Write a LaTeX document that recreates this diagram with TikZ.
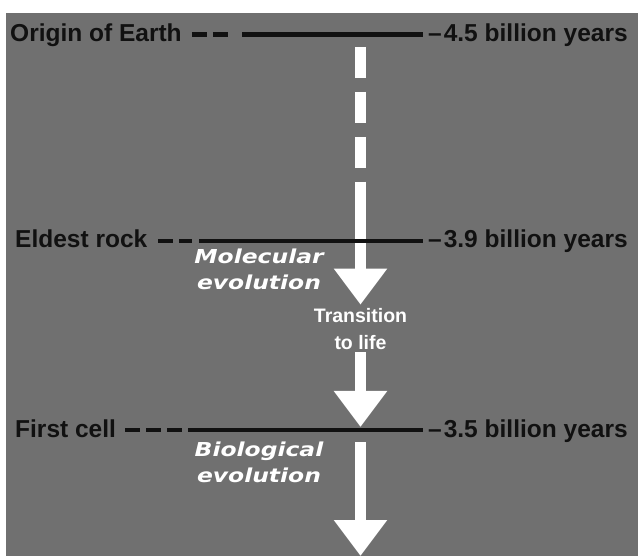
\documentclass[tikz,border=0pt]{standalone}
\usepackage{fontspec}
\setmainfont{Liberation Sans}
\newfontfamily\widefont[FakeStretch=1.22]{DejaVu Sans}
\usetikzlibrary{arrows.meta}
\definecolor{panel}{RGB}{112,112,112}
\definecolor{ink}{RGB}{17,17,17}
\tikzset{
  era/.style={anchor=base west,inner sep=0pt,text=ink,font=\fontsize{24.5}{29}\selectfont\bfseries},
  age/.style={anchor=base west,inner sep=0pt,text=ink,font=\fontsize{24.5}{29}\selectfont\bfseries},
  phase/.style={inner sep=0pt,text=white,align=center,font=\widefont\fontsize{19.2}{26.5}\selectfont\bfseries\itshape},
  passage/.style={inner sep=0pt,text=white,align=center,font=\fontsize{19.5}{27}\selectfont\bfseries},
  solidline/.style={line width=4.5pt,ink},
  dashline/.style={line width=4.5pt,ink,dash pattern=on 15pt off 6pt},
  flow/.style={white,line width=11.5pt,-{Triangle[width=51pt,length=36pt]}},
  flowdash/.style={white,line width=11.5pt,dash pattern=on 31pt off 14pt},
}
\begin{document}
\begin{tikzpicture}[x=1pt,y=-1pt]
\path[use as bounding box] (0,0) rectangle (638,556);
\fill[white] (0,0) rectangle (638,556);
\fill[panel] (6,13) rectangle (638,556);
% time marks
\node[era] (origin) at (10,42) {Origin of Earth};
\node[age] (origin age) at (428,42) {–\kern2pt4.5 billion years};
\node[era] (rock) at (15,248) {Eldest rock};
\node[age] (rock age) at (428,248) {–\kern2pt3.9 billion years};
\node[era] (cell) at (15,437) {First cell};
\node[age] (cell age) at (428,437) {–\kern2pt3.5 billion years};
\coordinate (l1) at (242,34.5);
\coordinate (l2) at (199,241);
\coordinate (l3) at (188,430);
% phases
\node[phase] (molecular) at (259,269.5) {Molecular\\evolution};
\node[passage] (transition) at (360.5,329.5) {Transition\\to life};
\node[phase] (biological) at (259,462.5) {Biological\\evolution};
% arrows
\coordinate (drop top) at (360.5,47);
\coordinate (drop mid) at (360.5,182);
\coordinate (cell mark) at (360.5,430);
\coordinate (drop end) at (360.5,556);
\draw[flowdash] (drop top) -- (drop mid);
\draw[flow,shorten >=4pt] (drop mid) -- (transition.north);
\draw[flow,shorten <=2pt,shorten >=3pt] (transition.south) -- (cell mark);
\draw[flow,shorten <=12pt] (cell mark) -- (drop end);
% lines
\draw[dashline,shorten <=10pt,shorten >=11pt] (origin.east |- l1) -- (l1);
\draw[solidline,shorten >=5pt] (l1) -- (origin age.west |- l1);
\draw[dashline,shorten <=11pt,shorten >=7pt] (rock.east |- l2) -- (l2);
\draw[solidline,shorten >=5pt] (l2) -- (rock age.west |- l2);
\draw[dashline,shorten <=9pt,shorten >=5pt] (cell.east |- l3) -- (l3);
\draw[solidline,shorten >=5pt] (l3) -- (cell age.west |- l3);
\end{tikzpicture}
\end{document}
